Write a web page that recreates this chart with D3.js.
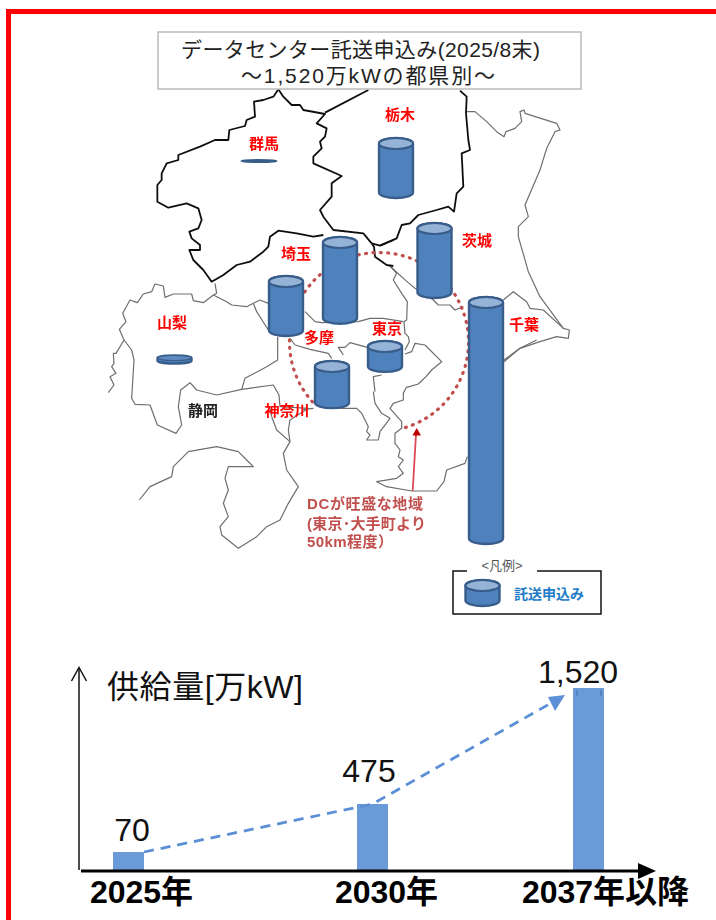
<!DOCTYPE html>
<html><head><meta charset="utf-8">
<script src="https://cdn.jsdelivr.net/npm/d3@7"></script>
<style>
html,body{margin:0;padding:0;background:#fff;overflow:hidden}
svg{display:block}
text{font-family:"Liberation Sans","Noto Sans CJK JP",sans-serif}
</style></head><body>
<svg id="c" width="716" height="920"></svg>
<script>
// ---- data ----
const prefectures = ["栃木","群馬","埼玉","茨城","多摩","東京","山梨","神奈川","千葉"];
const applications = [149,5,213,185,149,79,24,118,598];      // 万kW, read from cylinder heights
const years = ["2025年","2030年","2037年以降"];
const supply = [70,475,1520];
const supplyLabels = ["70","475","1,520"];
const titleLines = ["データセンター託送申込み(2025/8末)","～1,520万kWの都県別～"];
const noteLines = ["DCが旺盛な地域","(東京･大手町より","50km程度）"];

// ---- placement on the base map (page pixels) ----
const cylCx  = [396,259,340,434.5,286,385,174.5,332,486];
const cylTop = [137,159.5,236,222,275,340,354.5,360,296];
const labelPrefs = ["栃木","群馬","埼玉","茨城","多摩","東京","山梨","神奈川","千葉","静岡"];
const labelX = [400,264,296,477,319,387,172,287,524,203];
const labelY = [115,144,254,241,338,329,323,411,325,411];

// ---- base map outlines, traced as [origin x, origin y, crop coords ×3] ----
const z=(ox,oy,p)=>p.map(d=>[ox+d[0]/3,oy+d[1]/3]);
const blackLines=[
 z(100,20,[[535,208],[520,230],[490,240],[462,245],[465,290],[440,300],[435,318],[388,330],[385,360],[345,360],[300,380],[235,405],[235,420],[200,430],[185,460],[185,480],[172,495],[172,545],[205,563],[260,550],[295,565],[305,600],[295,625],[268,635],[275,655],[300,675],[300,690],[268,690],[280,720],[310,750],[335,785],[370,765],[410,735],[450,725],[490,695],[505,680],[510,650],[535,632],[590,640],[640,650],[670,645]]),
 z(100,20,[[535,208],[550,230],[575,255],[600,255],[610,270],[675,282],[650,310],[680,325],[675,350],[660,365],[665,385],[640,410],[640,430],[725,468],[695,490],[695,530],[660,570],[670,590],[700,630],[790,640],[815,670]]),
 z(100,20,[[675,278],[805,210]]),
 z(380,80,[[240,32],[260,50],[258,100],[265,180],[270,210],[245,220],[250,320],[230,340],[222,395],[205,380],[170,390],[115,405],[90,430],[65,435],[50,475],[0,497]]),
 z(100,20,[[815,670],[840,677],[880,660]]),
 z(100,20,[[815,670],[822,680],[825,710],[860,735],[880,738]])
];
const grayLines=[
 // Ibaraki coast, Kujukuri, Boso
 z(380,80,[[255,95],[285,95],[320,125],[350,155],[372,170],[378,155],[405,145],[425,125],[420,95],[432,90],[435,100],[530,130],[540,150],[525,155],[500,205],[480,270],[435,375],[445,410],[415,440],[415,470],[445,575],[480,650],[550,745],[568,750],[565,775],[530,770],[480,785],[420,805],[372,840]]),
 z(380,340,[[372,65],[420,25],[470,0]]),
 // Ibaraki / Chiba border
 z(290,250,[[300,48],[340,85],[375,115],[430,150],[445,165],[480,165],[495,180],[520,170]]),
 z(380,80,[[370,660],[400,635],[440,665],[450,685],[490,690],[550,745]]),
 // Saitama / Chiba / Tokyo east
 z(290,250,[[300,48],[320,70],[310,90],[335,130],[352,155],[350,210],[342,215],[345,250],[355,260],[358,275],[345,300]]),
 // Saitama / Tokyo
 z(290,250,[[45,185],[75,215],[95,218],[205,215],[240,205],[280,205],[340,215]]),
 // Tama / Kanagawa
 z(290,250,[[0,265],[15,285],[60,298],[115,310],[125,325]]),
 z(290,250,[[160,315],[145,292],[165,292],[180,278],[232,292]]),
 // Tokyo bay head and Chiba bay side
 z(290,250,[[345,312],[365,305],[375,280],[405,285],[455,335],[425,360],[408,380],[385,402],[350,412]]),
 z(340,380,[[200,20],[190,40],[190,60],[160,70],[150,85],[185,125],[185,145],[165,160],[165,190],[180,210],[175,230],[190,240],[175,260],[190,280],[170,295],[110,305],[140,320],[215,333],[290,333],[312,305],[320,270],[375,250],[382,230]]),
 // Kawasaki / Yokohama / Miura
 z(290,250,[[275,375],[250,380],[255,425]]),
 z(340,380,[[100,35],[105,70],[125,100],[150,115],[120,155],[115,180],[80,180],[90,165],[80,155],[85,140],[65,100],[50,85],[0,85]]),
 z(290,250,[[40,478],[70,475]]),
 // Yamanashi
 z(100,270,[[345,40],[350,70],[340,75],[310,98],[280,92],[275,72],[220,72],[195,82],[190,48],[165,42],[155,65],[130,72],[112,98],[90,90],[68,130],[78,155],[58,178],[72,210],[48,250],[40,250],[42,280],[35,290],[48,310],[30,320],[42,345],[25,368]]),
 z(100,270,[[340,75],[380,95],[395,105],[440,110],[460,100],[480,90],[505,100]]),
 z(100,270,[[460,100],[470,125],[505,180]]),
 z(100,270,[[72,210],[95,240],[102,270],[95,385],[105,403],[150,405],[172,465],[228,490],[245,465],[235,410],[242,360],[270,338],[290,360],[350,375],[425,358],[520,345],[537,375],[540,410],[625,415]]),
 z(100,270,[[533,200],[533,270],[500,290],[435,325],[425,358]]),
 // Shizuoka coast, Izu
 z(100,270,[[515,440],[530,480],[570,515],[550,550],[560,600],[595,650],[565,700],[540,750],[500,770],[470,800],[415,835],[365,795],[360,770],[385,740],[370,700],[385,660],[375,625],[385,590],[460,590],[440,570],[415,545],[350,530],[265,545],[220,590],[215,620],[150,650],[118,690]]),
 z(100,270,[[570,515],[565,480],[570,450],[625,415]]),
 z(100,270,[[510,415],[515,440]])
];

// ---- drawing ----
const svg=d3.select("#c");
const line=d3.line();
const defs=svg.append("defs");
defs.append("filter").attr("id","soft").append("feGaussianBlur").attr("stdDeviation",0.4);

// frame
svg.append("path").attr("d","M8.5,925V11.5H720").attr("fill","none").attr("stroke","#FF0000").attr("stroke-width",5);

// map
const map=svg.append("g").attr("filter","url(#soft)").attr("fill","none").attr("stroke-linejoin","round");
map.selectAll("path.g").data(grayLines).join("path").attr("class","g").attr("d",line).attr("stroke","#6e6e6e").attr("stroke-width",1.2);
map.selectAll("path.b").data(blackLines).join("path").attr("class","b").attr("d",line).attr("stroke","#111").attr("stroke-width",1.8);

// 50 km circle
const circle={cx:379,cy:342,r:89.5};
svg.append("path").attr("transform",`translate(${circle.cx},${circle.cy})`)
  .attr("d",d3.arc()({innerRadius:circle.r,outerRadius:circle.r,startAngle:3.98,endAngle:9.16}))
  .attr("fill","none").attr("stroke","#C0504D").attr("stroke-width",3.2).attr("filter","url(#soft)")
  .attr("stroke-linecap","round").attr("stroke-dasharray","0.1 7.3");

// note arrow
svg.append("line").attr("x1",412.7).attr("y1",491).attr("x2",416).attr("y2",434).attr("stroke","#DB4A55").attr("stroke-width",1.8);
svg.append("path").attr("d","M416.7,428L421,435.5H412.5Z").attr("fill","#C00000");

// cylinders
const hScale=d3.scaleLinear().domain([0,1520]).range([0,633]);
function cylinder(g,cx,top,h,w=36){
  const ry=Math.min(5.5,h/4),rx=w/2-1,t=top+1+ry,b=top+h-1-ry,hh=Math.max(b-t,0);
  const flat=h<6, low=h<15;
  g.append("path").attr("d",`M${cx-rx},${t}V${t+hh}A${rx},${ry} 0 0 0 ${cx+rx},${t+hh}V${t}A${rx},${ry} 0 0 0 ${cx-rx},${t}Z`)
    .attr("fill",flat?"#385D8A":"#4F81BD").attr("stroke","#385D8A").attr("stroke-width",flat?3:2.4).attr("stroke-linejoin","round");
  if(!flat) g.append("ellipse").attr("cx",cx).attr("cy",t).attr("rx",rx).attr("ry",ry)
    .attr("fill",low?"#5E8AC0":"#95B3D7").attr("stroke","#385D8A").attr("stroke-width",low?1.2:2.2);
}
const cyl=svg.append("g").attr("filter","url(#soft)");
applications.forEach((v,i)=>cylinder(cyl,cylCx[i],cylTop[i],hScale(v)));

// prefecture labels
svg.append("g").attr("filter","url(#soft)").selectAll("text").data(labelPrefs).join("text")
  .attr("x",(d,i)=>labelX[i]).attr("y",(d,i)=>labelY[i]).attr("dy","0.36em")
  .attr("text-anchor","middle").attr("font-size",15).attr("font-weight",700)
  .attr("fill",d=>d==="静岡"?"#222":"#FF0000").text(d=>d);

// note
svg.append("g").attr("filter","url(#soft)").selectAll("text").data(noteLines).join("text")
  .attr("x",307).attr("y",(d,i)=>[509,529,547][i])
  .attr("textLength",(d,i)=>[116,119,86][i]).attr("lengthAdjust","spacing")
  .attr("font-size",15).attr("font-weight",700).attr("fill","#C0504D").text(d=>d);

// title
svg.append("rect").attr("x",158).attr("y",32).attr("width",423).attr("height",57)
   .attr("fill","#fff").attr("stroke","#BFBFBF").attr("stroke-width",1.6);
svg.append("g").selectAll("text").data(titleLines).join("text")
  .attr("x",(d,i)=>[181,241][i]).attr("y",(d,i)=>[57,83][i])
  .attr("textLength",(d,i)=>[359,254][i]).attr("lengthAdjust","spacing")
  .attr("font-size",21).attr("fill","#222").text(d=>d);

// legend
svg.append("rect").attr("x",453).attr("y",571).attr("width",148).attr("height",43)
   .attr("fill","#fff").attr("stroke","#111").attr("stroke-width",1.5);
svg.append("rect").attr("x",467).attr("y",560).attr("width",70).attr("height",15).attr("fill","#fff");
svg.append("text").attr("x",502).attr("y",570).attr("text-anchor","middle").attr("font-size",13).attr("fill","#555").text("<凡例>");
cylinder(svg.append("g").attr("filter","url(#soft)"),482.5,579,28);
svg.append("text").attr("x",514).attr("y",599).attr("font-size",14).attr("font-weight",700).attr("fill","#1F7CC8").text("託送申込み");

// bar chart: the source drawing is schematic, so the value scale is piecewise
const x=d3.scaleOrdinal().domain(years).range([128.5,372.5,588.5]);
const xLabel=d3.scaleOrdinal().domain(years).range([141,386,605]);
const y=d3.scaleLinear().domain([0,70,475,1520]).range([870,852,804,688]);
const barW=31;

svg.append("g").selectAll("rect").data(years).join("rect")
  .attr("x",d=>x(d)-barW/2).attr("width",barW)
  .attr("y",(d,i)=>y(supply[i])).attr("height",(d,i)=>y(0)-y(supply[i]))
  .attr("fill","#6A9AD8");

// remnants at the top of the last bar
svg.append("g").selectAll("line").data([577,601]).join("line")
  .attr("x1",d=>d).attr("x2",d=>d).attr("y1",690).attr("y2",696)
  .attr("stroke","#4F7FBE").attr("stroke-width",1.5);

// trend arrow
const trend=[[144,y(supply[0])],[x(years[1]),y(supply[1])],[553,702]];
svg.append("path").attr("d",line(trend)).attr("fill","none").attr("stroke","#5B8FD6")
  .attr("stroke-width",2.8).attr("stroke-dasharray","10 7");
svg.append("path").attr("d","M565,695L548,697L555,711Z").attr("fill","#5B8FD6");

// axes
svg.append("path").attr("d","M79,870V668").attr("fill","none").attr("stroke","#111").attr("stroke-width",1.5);
svg.append("path").attr("d","M71.5,681L79,667.5L86.5,681").attr("fill","none").attr("stroke","#111").attr("stroke-width",1.5);
svg.append("path").attr("d","M81,871H640").attr("fill","none").attr("stroke","#000").attr("stroke-width",3);
svg.append("path").attr("d","M638,863L656,871L638,879Z").attr("fill","#000");
const ax=svg.append("g").attr("transform","translate(0,871)")
  .call(d3.axisBottom(xLabel).tickSize(0).tickPadding(9));
ax.select(".domain").remove();
ax.selectAll("text").attr("font-size",32).attr("font-weight",700).attr("fill","#000")
  .style("font-family",'"Liberation Sans","Noto Sans CJK JP",sans-serif');

// value labels
const valX=[132,369,578], valY=[841,782,683];
svg.append("g").selectAll("text").data(supplyLabels).join("text")
  .attr("x",(d,i)=>valX[i]).attr("y",(d,i)=>valY[i]).attr("text-anchor","middle")
  .attr("font-size",32).attr("fill","#111").text(d=>d);
svg.append("text").attr("x",107).attr("y",698).attr("font-size",32).attr("textLength",196).attr("fill","#111").text("供給量[万kW]");
</script>
</body></html>
